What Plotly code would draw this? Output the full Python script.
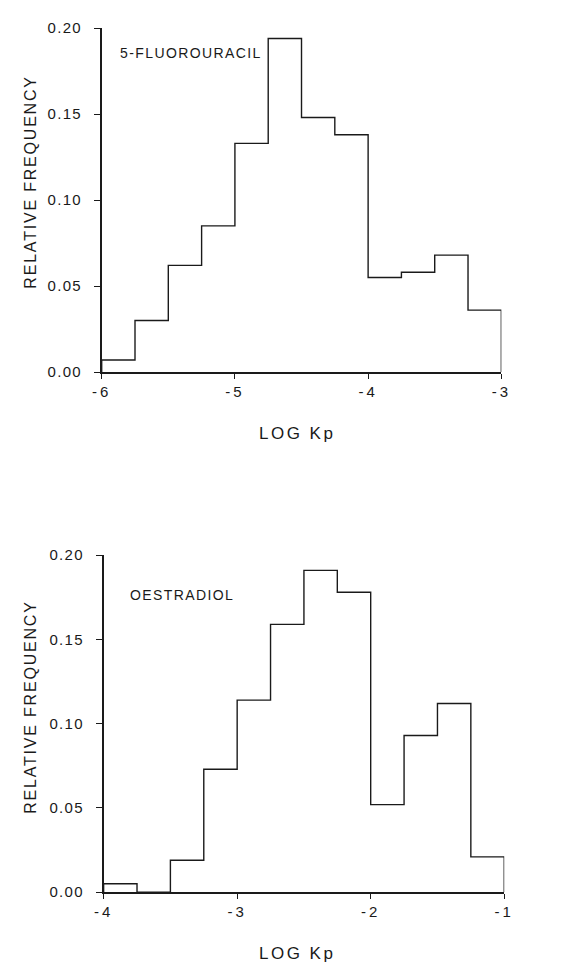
import plotly.graph_objects as go

# ---- data ----
fu_edges = [-6.0, -5.75, -5.5, -5.25, -5.0, -4.75, -4.5, -4.25, -4.0, -3.75, -3.5, -3.25, -3.0]
fu_freq = [0.007, 0.030, 0.062, 0.085, 0.133, 0.194, 0.148, 0.138, 0.055, 0.058, 0.068, 0.036]

oe_edges = [-4.0, -3.75, -3.5, -3.25, -3.0, -2.75, -2.5, -2.25, -2.0, -1.75, -1.5, -1.25, -1.0]
oe_freq = [0.005, 0.0, 0.019, 0.073, 0.114, 0.159, 0.191, 0.178, 0.052, 0.093, 0.112, 0.021]

fu_xticks = [-6, -5, -4, -3]
oe_xticks = [-4, -3, -2, -1]
y_ticks = [0.0, 0.05, 0.10, 0.15, 0.20]

W, H = 576, 969
FONT = "Liberation Sans, Arial, sans-serif"
INK = "#1a1a1a"


def sp(text, px):
    return f'<span style="letter-spacing:{px}px">{text}</span>'


def step_xy(edges, vals):
    xs = [edges[0]] + list(edges[:-1]) + [edges[-1]]
    ys = [0.0] + list(vals) + [0.0]
    return xs, ys


fig = go.Figure()
x1, y1 = step_xy(fu_edges, fu_freq)
x2, y2 = step_xy(oe_edges, oe_freq)
fig.add_trace(go.Scatter(x=x1, y=y1, mode="lines", line=dict(shape="hv", color=INK, width=1.4),
                         xaxis="x", yaxis="y", showlegend=False, hoverinfo="skip"))
fig.add_trace(go.Scatter(x=x2, y=y2, mode="lines", line=dict(shape="hv", color=INK, width=1.4),
                         xaxis="x2", yaxis="y2", showlegend=False, hoverinfo="skip"))


def px_x(p):
    return p / W


def px_y(p):
    return 1 - p / H


axis_common = dict(showline=True, linecolor=INK, linewidth=1.5, ticks="outside",
                   tickwidth=1.2, tickcolor=INK, showgrid=False, zeroline=False,
                   tickfont=dict(family=FONT, size=15, color=INK), fixedrange=True)

fig.update_layout(
    width=W, height=H,
    margin=dict(l=0, r=0, t=0, b=0),
    paper_bgcolor="white", plot_bgcolor="white",
    xaxis=dict(domain=[px_x(95), px_x(509)], range=[fu_edges[0], fu_edges[-1]], anchor="y",
               ticklen=5, tickvals=fu_xticks, ticktext=[sp(f"-{abs(v)}", 3) for v in fu_xticks], **axis_common),
    yaxis=dict(domain=[px_y(369.5), px_y(19.5)], range=[0, 0.2], anchor="x",
               ticklen=6, ticklabelstandoff=9,
               tickvals=y_ticks, ticktext=[sp(f"{v:.2f}", 1.3) for v in y_ticks], **axis_common),
    xaxis2=dict(domain=[px_x(97), px_x(512)], range=[oe_edges[0], oe_edges[-1]], anchor="y2",
                ticklen=5, tickvals=oe_xticks, ticktext=[sp(f"-{abs(v)}", 3) for v in oe_xticks], **axis_common),
    yaxis2=dict(domain=[px_y(899), px_y(556)], range=[0, 0.2], anchor="x2",
                ticklen=6, ticklabelstandoff=9,
                tickvals=y_ticks, ticktext=[sp(f"{v:.2f}", 1.3) for v in y_ticks], **axis_common),
)

ann_font = dict(family=FONT, color=INK)
annotations = [
    dict(text=sp("RELATIVE FREQUENCY", 1.8), x=px_x(21), y=px_y(176.5), textangle=-90, font=dict(size=16, **ann_font)),
    dict(text=sp("RELATIVE FREQUENCY", 1.8), x=px_x(21), y=px_y(711), textangle=-90, font=dict(size=16, **ann_font)),
    dict(text=sp("LOG Kp", 2.5), x=px_x(297), y=px_y(432), font=dict(size=17, **ann_font)),
    dict(text=sp("LOG Kp", 2.5), x=px_x(297), y=px_y(961), font=dict(size=17, **ann_font)),
    dict(text=sp("5-FLUOROURACIL", 1.4), x=px_x(112), y=px_y(45), xanchor="left", font=dict(size=14, **ann_font)),
    dict(text=sp("OESTRADIOL", 1.4), x=px_x(122), y=px_y(596), xanchor="left", font=dict(size=14, **ann_font)),
]
for a in annotations:
    a.setdefault("xanchor", "center")
    a.update(xref="paper", yref="paper", yanchor="middle", showarrow=False)
fig.update_layout(annotations=annotations)

fig.write_html("out.html")
